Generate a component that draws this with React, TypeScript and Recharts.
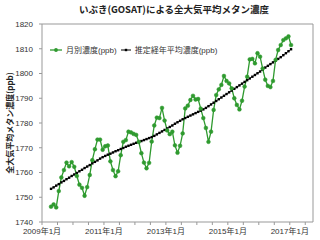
import React from 'react';
import { LineChart, Line, XAxis, YAxis, Legend, ReferenceLine } from 'recharts';

// monthly whole-atmosphere CH4 from GOSAT, Apr 2009 .. Jan 2017 (ppb)
const monthlyPpb = [
  1746.2, 1747.1, 1745.9, 1752.5, 1758.0, 1761.0, 1764.0, 1762.5, 1764.2, 1762.3,
  1758.6, 1755.1, 1753.8, 1750.6, 1754.1, 1759.0, 1765.0, 1769.4, 1773.3, 1773.3,
  1769.2, 1770.6, 1770.9, 1764.5, 1761.0, 1758.5, 1760.5, 1767.0, 1772.4, 1773.1,
  1776.5, 1776.2, 1775.6, 1775.2, 1772.4, 1767.8, 1764.0, 1761.7, 1763.9, 1772.5,
  1779.0, 1782.2, 1782.0, 1786.1, 1781.0, 1777.0, 1775.5, 1776.5, 1771.0, 1768.0,
  1770.8, 1775.8, 1785.9, 1787.0, 1789.3, 1791.0, 1789.5, 1789.7, 1785.8, 1782.0,
  1778.0, 1772.4, 1776.5, 1785.3, 1791.3, 1793.6, 1795.4, 1799.0, 1797.0, 1796.0,
  1794.0, 1790.0, 1787.3, 1785.5, 1789.0, 1794.7, 1798.7, 1805.7, 1805.9, 1804.1,
  1808.2, 1806.8, 1802.0, 1797.5, 1795.0, 1794.5, 1797.0, 1805.5, 1809.5, 1811.5,
  1813.5, 1814.2, 1815.0, 1811.5,
];

// estimated long-term mean (ppb), same months
const trendPpb = [
  1753.4, 1754.0, 1754.7, 1755.3, 1756.0, 1756.6, 1757.3, 1757.9, 1758.6, 1759.2,
  1759.8, 1760.5, 1761.1, 1761.8, 1762.4, 1763.0, 1763.7, 1764.3, 1764.9, 1765.6,
  1766.2, 1766.7, 1767.2, 1767.6, 1768.1, 1768.6, 1769.0, 1769.5, 1769.9, 1770.4,
  1770.8, 1771.2, 1771.6, 1772.0, 1772.3, 1772.7, 1773.1, 1773.5, 1773.9, 1774.3,
  1774.8, 1775.4, 1776.0, 1776.6, 1777.2, 1777.8, 1778.4, 1779.0, 1779.7, 1780.3,
  1780.9, 1781.5, 1782.0, 1782.5, 1783.0, 1783.5, 1784.0, 1784.5, 1785.0, 1785.5,
  1786.1, 1786.8, 1787.5, 1788.2, 1788.9, 1789.6, 1790.3, 1791.0, 1791.7, 1792.4,
  1793.1, 1793.8, 1794.5, 1795.2, 1795.9, 1796.6, 1797.3, 1798.0, 1798.7, 1799.4,
  1800.1, 1800.8, 1801.6, 1802.4, 1803.1, 1803.8, 1804.5, 1805.2, 1805.9, 1806.6,
  1807.4, 1808.2, 1809.0, 1809.8,
];

const firstMonth = 3; // April 2009, counted from 2009年1月
const xTickLabels = ['2009年1月', '2011年1月', '2013年1月', '2015年1月', '2017年1月'];
const yTicks = [1740, 1750, 1760, 1770, 1780, 1790, 1800, 1810, 1820];

const data = monthlyPpb.map((v, i) => ({
  m: firstMonth + i + 0.5,
  monthly: v,
  trend: trendPpb[i],
}));

const xTicks: number[] = [];
for (let t = 0; t <= 102; t += 6) xTicks.push(t);

const GREEN = '#2f9a2f';
const AXIS = '#999';
const FONT = "'Liberation Sans', 'Noto Sans CJK JP', sans-serif";

const SquareDot = (props: any) => {
  const { cx, cy, index } = props;
  if (cx == null || cy == null) return null;
  return <rect key={index} x={cx - 1.2} y={cy - 1.2} width={2.4} height={2.4} fill="#000" />;
};

const LegendBox = () => (
  <div style={{ display: 'flex', alignItems: 'center', fontSize: 8, color: '#333', fontFamily: FONT, whiteSpace: 'nowrap' }}>
    <svg width={14} height={8}>
      <line x1={0} y1={4} x2={12} y2={4} stroke={GREEN} strokeWidth={1.3} />
      <circle cx={6} cy={4} r={1.9} fill={GREEN} />
    </svg>
    <span style={{ marginLeft: 2, marginRight: 4 }}>月別濃度(ppb)</span>
    <svg width={12} height={8}>
      <line x1={0} y1={4} x2={10} y2={4} stroke="#000" strokeWidth={1} />
      <rect x={3.8} y={2.8} width={2.4} height={2.4} fill="#000" />
    </svg>
    <span style={{ marginLeft: 2 }}>推定経年平均濃度(ppb)</span>
  </div>
);

export default function App() {
  return (
    <div style={{ position: 'absolute', left: 0, top: 0, width: 320, height: 240, background: '#fff' }}>
      <div
        style={{
          position: 'absolute', top: 2, left: 0, width: 348, textAlign: 'center',
          fontFamily: "'Noto Sans CJK JP', sans-serif", fontSize: 9.5, fontWeight: 700, color: '#222',
        }}
      >
        いぶき(GOSAT)による全大気平均メタン濃度
      </div>
      <LineChart width={320} height={240} data={data} margin={{ top: 24, right: 7, bottom: 0, left: 0 }}>
        <XAxis
          dataKey="m"
          type="number"
          domain={[0, 105]}
          ticks={xTicks}
          interval={0}
          height={18}
          stroke={AXIS}
          tickSize={3}
          tickMargin={3}
          tick={{ fontSize: 8, fill: '#333', fontFamily: FONT }}
          tickFormatter={(v: number) => (v % 24 === 0 ? xTickLabels[v / 24] : '')}
        />
        <YAxis
          domain={[1740, 1820]}
          ticks={yTicks}
          interval={0}
          width={42}
          stroke={AXIS}
          tickSize={3}
          tickMargin={6}
          tick={{ fontSize: 8, fill: '#333', fontFamily: FONT }}
          label={{
            value: '全大気平均メタン濃度(ppb)',
            angle: -90,
            position: 'insideLeft',
            offset: 10,
            style: { textAnchor: 'middle', fontSize: 8, fontWeight: 600, fill: '#222', fontFamily: "'Noto Sans CJK JP', sans-serif" },
          }}
        />
        <ReferenceLine y={1820} stroke={AXIS} />
        <ReferenceLine x={105} stroke={AXIS} />
        <Legend
          layout="horizontal"
          verticalAlign="middle"
          align="center"
          content={<LegendBox />}
          wrapperStyle={{ top: 44, left: 50, width: 'auto', height: 10 }}
        />
        <Line
          dataKey="trend"
          stroke="#000"
          strokeWidth={0.8}
          dot={<SquareDot />}
          activeDot={false}
          isAnimationActive={false}
        />
        <Line
          dataKey="monthly"
          stroke={GREEN}
          strokeWidth={1.3}
          dot={{ r: 1.9, fill: GREEN, stroke: GREEN, strokeWidth: 0.5 }}
          activeDot={false}
          isAnimationActive={false}
        />
      </LineChart>
    </div>
  );
}
